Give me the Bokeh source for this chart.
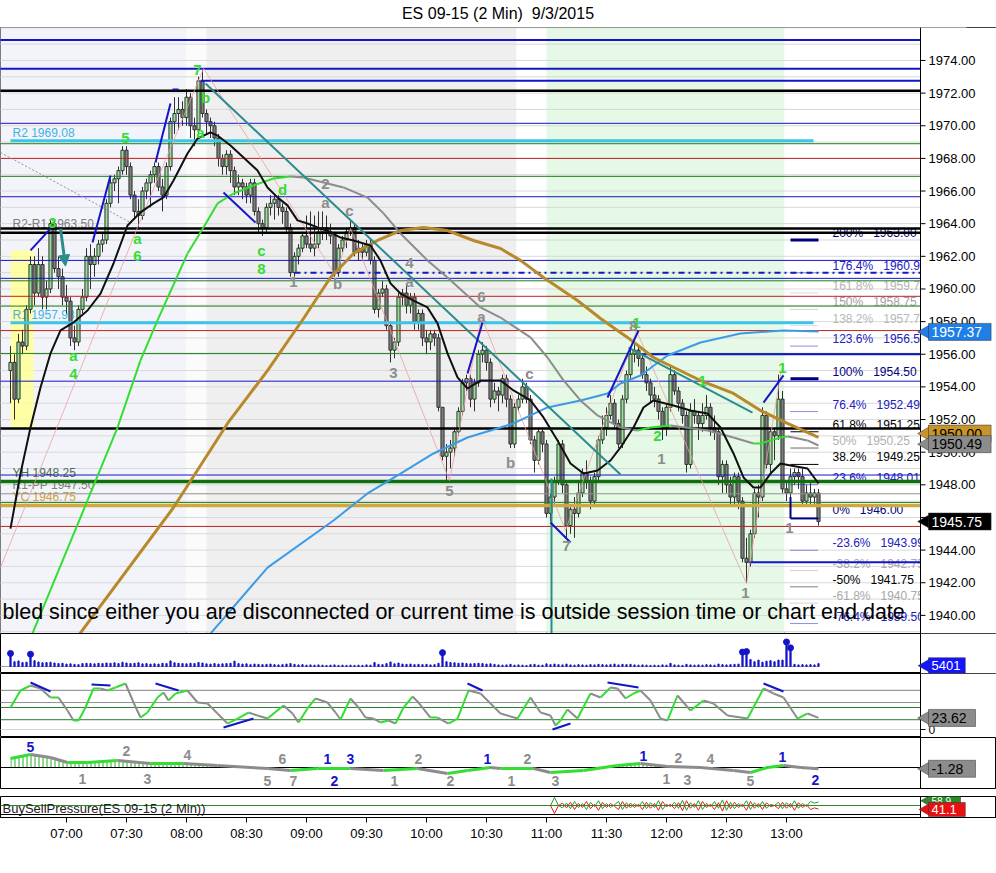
import numpy as np
from bokeh.plotting import figure
from bokeh.layouts import column
from bokeh.models import Range1d, FixedTicker, Div, Arrow, NormalHead
from bokeh.core.properties import value
from bokeh.embed import file_html
from bokeh.resources import INLINE

FONT = "Liberation Sans"

# ---------------------------------------------------------------- data
title_text = "ES 09-15 (2 Min)&nbsp; 9/3/2015"
session_start = "06:32"
bar_minutes = 2
time_tick_labels = ["07:00", "07:30", "08:00", "08:30", "09:00", "09:30", "10:00",
                    "10:30", "11:00", "11:30", "12:00", "12:30", "13:00"]
price_tick_values = [1940, 1942, 1944, 1946, 1948, 1950, 1952, 1954, 1956, 1958, 1960,
                     1962, 1964, 1966, 1968, 1970, 1972, 1974]

opens = [1955.0, 1955.5, 1953.25, 1956.75, 1956.5, 1958.75, 1961.5, 1959.75, 1961.5, 1959.5,
         1960.0, 1964.0, 1961.25, 1960.75, 1959.5, 1959.25, 1957.0, 1956.75, 1958.75, 1959.5,
         1962.0, 1961.5, 1962.0, 1962.75, 1963.0, 1965.25, 1966.5, 1966.75, 1967.25, 1968.5,
         1967.5, 1965.75, 1964.75, 1964.5, 1966.0, 1966.5, 1967.0, 1967.5, 1966.25, 1965.75,
         1967.5, 1970.25, 1970.75, 1971.0, 1970.5, 1971.75, 1970.0, 1969.75, 1972.75, 1970.75,
         1970.25, 1970.0, 1969.25, 1968.0, 1967.5, 1968.25, 1967.25, 1966.25, 1966.5, 1966.25,
         1965.75, 1966.5, 1964.75, 1964.0, 1963.75, 1965.0, 1965.25, 1965.5, 1965.0, 1964.75,
         1963.75, 1961.0, 1962.0, 1962.5, 1963.25, 1962.75, 1962.5, 1962.75, 1963.5, 1963.75,
         1963.5, 1963.25, 1961.0, 1962.5, 1963.0, 1963.5, 1963.75, 1962.25, 1962.5, 1962.25,
         1962.75, 1961.75, 1958.75, 1959.75, 1960.0, 1957.75, 1956.25, 1956.75, 1959.5, 1959.75,
         1959.0, 1959.5, 1958.0, 1958.5, 1957.0, 1956.75, 1957.25, 1957.0, 1952.75, 1949.75,
         1950.0, 1950.25, 1951.25, 1952.5, 1954.25, 1954.5, 1953.25, 1954.25, 1956.0, 1956.25,
         1955.5, 1953.25, 1953.75, 1953.5, 1954.5, 1953.25, 1950.5, 1952.75, 1953.25, 1954.0,
         1953.25, 1950.75, 1949.5, 1951.25, 1950.5, 1946.25, 1947.25, 1948.25, 1950.5, 1948.0,
         1945.5, 1946.5, 1946.25, 1947.5, 1948.75, 1948.25, 1947.0, 1948.5, 1950.75, 1951.5,
         1952.25, 1953.0, 1951.75, 1950.5, 1953.25, 1954.75, 1956.0, 1956.25, 1955.75, 1954.75,
         1954.25, 1953.5, 1953.25, 1952.5, 1951.5, 1952.75, 1954.75, 1953.75, 1953.0, 1952.25,
         1949.25, 1952.5, 1952.25, 1951.75, 1952.25, 1952.75, 1951.5, 1951.25, 1948.5, 1949.25,
         1948.0, 1947.25, 1948.5, 1947.0, 1943.5, 1943.25, 1945.0, 1947.5, 1947.25, 1952.25,
         1949.25, 1951.25, 1951.0, 1953.25, 1947.75, 1947.5, 1948.5, 1948.75, 1948.5, 1947.0,
         1947.5, 1947.25, 1947.5]
highs = [1956.5, 1956.0, 1957.25, 1957.5, 1959.0, 1962.0, 1962.0, 1962.5, 1962.0, 1960.5,
         1964.25, 1964.25, 1962.0, 1961.25, 1960.25, 1959.5, 1957.75, 1959.0, 1960.0, 1962.5,
         1962.75, 1962.5, 1963.0, 1963.5, 1965.5, 1966.75, 1967.0, 1967.5, 1968.75, 1968.75,
         1967.75, 1966.0, 1965.5, 1966.25, 1966.75, 1967.25, 1967.75, 1967.75, 1966.75, 1967.75,
         1970.5, 1971.75, 1971.75, 1971.5, 1972.25, 1972.0, 1970.5, 1973.0, 1973.5, 1971.0,
         1970.5, 1970.25, 1969.5, 1968.25, 1968.5, 1968.5, 1967.5, 1967.0, 1966.75, 1966.5,
         1966.75, 1966.75, 1965.0, 1964.25, 1965.25, 1965.75, 1965.75, 1965.75, 1965.25, 1965.0,
         1964.0, 1962.25, 1962.75, 1963.5, 1964.5, 1964.75, 1964.5, 1964.75, 1964.75, 1964.5,
         1964.0, 1963.5, 1962.75, 1963.25, 1963.75, 1964.25, 1964.0, 1963.0, 1962.75, 1963.0,
         1963.0, 1962.0, 1960.0, 1960.5, 1960.25, 1958.0, 1957.0, 1959.75, 1960.0, 1960.25,
         1959.75, 1959.75, 1958.75, 1958.75, 1957.5, 1957.5, 1957.5, 1957.25, 1952.75, 1950.5,
         1950.75, 1951.5, 1952.75, 1954.5, 1954.75, 1954.75, 1954.5, 1956.25, 1956.75, 1956.5,
         1955.75, 1954.25, 1954.0, 1954.75, 1954.75, 1953.5, 1953.0, 1953.5, 1954.5, 1954.25,
         1953.5, 1951.0, 1951.5, 1951.5, 1950.75, 1947.5, 1948.5, 1950.75, 1950.75, 1948.25,
         1946.75, 1947.25, 1948.25, 1949.0, 1949.5, 1948.5, 1948.75, 1951.0, 1952.25, 1952.75,
         1953.5, 1953.25, 1952.0, 1953.5, 1955.0, 1956.5, 1957.0, 1956.5, 1956.0, 1955.25,
         1954.5, 1954.0, 1953.5, 1952.75, 1953.0, 1955.25, 1955.0, 1954.0, 1953.25, 1952.5,
         1953.0, 1953.25, 1952.5, 1953.0, 1953.5, 1953.0, 1952.25, 1951.5, 1949.5, 1949.5,
         1948.5, 1948.75, 1948.75, 1947.25, 1944.75, 1945.25, 1947.75, 1948.0, 1952.75, 1952.5,
         1951.5, 1951.5, 1954.75, 1953.75, 1948.25, 1949.0, 1949.0, 1949.0, 1949.0, 1948.0,
         1948.25, 1947.75, 1947.75]
lows = [1953.0, 1952.0, 1953.0, 1956.0, 1956.25, 1958.5, 1959.0, 1959.5, 1958.75, 1958.75,
        1959.75, 1961.0, 1960.0, 1959.0, 1958.5, 1956.5, 1956.25, 1956.5, 1958.5, 1959.25,
        1960.0, 1960.75, 1961.5, 1962.25, 1962.75, 1965.0, 1966.0, 1965.25, 1967.0, 1967.0,
        1965.5, 1964.25, 1963.75, 1964.25, 1965.5, 1965.0, 1966.5, 1966.0, 1964.75, 1965.5,
        1967.25, 1969.5, 1969.75, 1970.0, 1970.0, 1969.25, 1968.75, 1969.5, 1970.5, 1969.5,
        1969.25, 1968.75, 1967.5, 1967.0, 1967.0, 1966.5, 1965.75, 1965.75, 1965.5, 1965.25,
        1965.25, 1964.5, 1963.5, 1963.25, 1963.5, 1964.5, 1964.25, 1964.5, 1964.0, 1963.5,
        1960.75, 1960.75, 1961.5, 1962.25, 1962.5, 1962.25, 1962.0, 1962.5, 1963.0, 1963.0,
        1962.75, 1960.75, 1960.75, 1962.25, 1962.5, 1963.25, 1962.0, 1961.75, 1961.75, 1962.0,
        1961.5, 1958.5, 1958.25, 1959.5, 1957.5, 1955.5, 1955.75, 1956.5, 1959.0, 1958.5,
        1958.5, 1957.5, 1957.5, 1956.5, 1956.0, 1956.25, 1956.5, 1952.5, 1949.5, 1948.25,
        1949.0, 1949.75, 1951.0, 1952.25, 1953.75, 1952.75, 1952.5, 1954.0, 1955.5, 1955.0,
        1952.75, 1953.0, 1952.5, 1953.0, 1952.75, 1950.25, 1950.25, 1952.5, 1953.0, 1953.0,
        1950.5, 1948.75, 1949.25, 1950.0, 1946.0, 1945.75, 1946.75, 1948.0, 1947.5, 1944.75,
        1945.0, 1944.75, 1946.0, 1947.25, 1947.75, 1946.5, 1946.75, 1948.25, 1950.5, 1951.0,
        1952.0, 1951.5, 1950.25, 1950.25, 1953.0, 1954.5, 1955.5, 1955.25, 1954.5, 1953.75,
        1953.0, 1952.75, 1952.0, 1950.75, 1951.0, 1952.5, 1953.5, 1952.5, 1951.75, 1948.75,
        1949.0, 1951.75, 1950.75, 1951.25, 1952.0, 1951.0, 1950.75, 1948.0, 1947.5, 1947.5,
        1946.75, 1946.75, 1946.5, 1943.25, 1942.0, 1943.0, 1944.75, 1946.0, 1947.0, 1949.0,
        1948.75, 1949.5, 1950.75, 1947.5, 1947.0, 1947.25, 1948.0, 1947.75, 1946.75, 1946.75,
        1946.75, 1946.75, 1945.5]
closes = [1955.5, 1953.25, 1956.75, 1956.5, 1958.75, 1961.5, 1959.75, 1961.5, 1959.5, 1960.0,
          1964.0, 1961.25, 1960.75, 1959.5, 1959.25, 1957.0, 1956.75, 1958.75, 1959.5, 1962.0,
          1961.5, 1962.0, 1962.75, 1963.0, 1965.25, 1966.5, 1966.75, 1967.25, 1968.5, 1967.5,
          1965.75, 1964.75, 1964.5, 1966.0, 1966.5, 1967.0, 1967.5, 1966.25, 1965.75, 1967.5,
          1970.25, 1970.75, 1971.0, 1970.5, 1971.75, 1970.0, 1969.75, 1972.75, 1970.75, 1970.25,
          1970.0, 1969.25, 1968.0, 1967.5, 1968.25, 1967.25, 1966.25, 1966.5, 1966.25, 1965.75,
          1966.5, 1964.75, 1964.0, 1963.75, 1965.0, 1965.25, 1965.5, 1965.0, 1964.75, 1963.75,
          1961.0, 1962.0, 1962.5, 1963.25, 1962.75, 1962.5, 1962.75, 1963.5, 1963.75, 1963.5,
          1963.25, 1961.0, 1962.5, 1963.0, 1963.5, 1963.75, 1962.25, 1962.5, 1962.25, 1962.75,
          1961.75, 1958.75, 1959.75, 1960.0, 1957.75, 1956.25, 1956.75, 1959.5, 1959.75, 1959.0,
          1959.5, 1958.0, 1958.5, 1957.0, 1956.75, 1957.25, 1957.0, 1952.75, 1949.75, 1950.0,
          1950.25, 1951.25, 1952.5, 1954.25, 1954.5, 1953.25, 1954.25, 1956.0, 1956.25, 1955.5,
          1953.25, 1953.75, 1953.5, 1954.5, 1953.25, 1950.5, 1952.75, 1953.25, 1954.0, 1953.25,
          1950.75, 1949.5, 1951.25, 1950.5, 1946.25, 1947.25, 1948.25, 1950.5, 1948.0, 1945.5,
          1946.5, 1946.25, 1947.5, 1948.75, 1948.25, 1947.0, 1948.5, 1950.75, 1951.5, 1952.25,
          1953.0, 1951.75, 1950.5, 1953.25, 1954.75, 1956.0, 1956.25, 1955.75, 1954.75, 1954.25,
          1953.5, 1953.25, 1952.5, 1951.5, 1952.75, 1954.75, 1953.75, 1953.0, 1952.25, 1949.25,
          1952.5, 1952.25, 1951.75, 1952.25, 1952.75, 1951.5, 1951.25, 1948.5, 1949.25, 1948.0,
          1947.25, 1948.5, 1947.0, 1943.5, 1943.25, 1945.0, 1947.5, 1947.25, 1952.25, 1949.25,
          1951.25, 1951.0, 1953.25, 1947.75, 1947.5, 1948.5, 1948.75, 1948.5, 1947.0, 1947.5,
          1947.25, 1947.5, 1945.75]
volumes = [24500, 9000, 10500, 7500, 8000, 23000, 11000, 8500, 7000, 7500,
           8000, 6500, 5500, 6000, 4500, 5000, 4000, 3500, 5500, 6000,
           5500, 5000, 6000, 5500, 6500, 6000, 7000, 5500, 8000, 6500,
           5500, 6000, 7000, 5000, 5500, 4500, 5000, 4500, 6000, 5500,
           10500, 7000, 6000, 5500, 5000, 6000, 5500, 7500, 6500, 5000,
           4500, 5500, 4500, 5000, 5500, 6000, 10000, 5500, 4500, 5000,
           3500, 4500, 4000, 3500, 4000, 4500, 3500, 3000, 3500, 4500,
           5500, 4000, 3000, 3500, 2500, 3000, 2500, 3000, 2500, 2000,
           2500, 3000, 2000, 2500, 2000, 2500, 2000, 2500, 2000, 3000,
           2500, 7500, 4000, 3500, 5500, 8500, 5000, 6500, 4500, 4000,
           4500, 3500, 4000, 3500, 4000, 3000, 3500, 6000, 26000, 9000,
           7500, 7000, 6000, 6500, 5500, 5000, 5500, 6000, 5500, 4500,
           5000, 4000, 3000, 2500, 3000, 4000, 2500, 3000, 2500, 2000,
           3500, 4000, 2500, 2500, 5000, 3500, 4500, 3500, 3000, 4500,
           3000, 2500, 3500, 3000, 2500, 3500, 3000, 4000, 3500, 3000,
           3500, 4500, 3000, 4000, 3500, 4000, 3000, 2500, 3000, 2500,
           2000, 2500, 2000, 3000, 2500, 6000, 3000, 2500, 2000, 4000,
           3000, 2500, 3000, 2500, 3500, 3000, 2500, 4500, 3500, 3000,
           3500, 4000, 4500, 27000, 28000, 13000, 9000, 12000, 8000, 10000,
           11000, 9000, 12000, 12000, 46000, 35000, 4000, 3000, 3500, 3000,
           3500, 3000, 5401]

# session shading (time from, time to)
band_from = ["06:00", "08:00", "08:10", "10:45", "11:00", "12:59"]
band_to = ["08:00", "08:10", "10:45", "11:00", "12:59", "14:30"]

# horizontal price levels
level_prices = [1975.25, 1973.50, 1972.75, 1972.15, 1970.15, 1969.08, 1968.90, 1968.00,
                1966.90, 1965.65, 1963.70, 1963.45, 1961.75, 1961.00, 1960.65, 1960.50,
                1959.55, 1958.95, 1957.93, 1957.45, 1956.05, 1956.00, 1954.35, 1951.45,
                1948.60, 1948.20, 1947.45, 1946.92, 1946.73, 1945.45, 1943.25]
level_from_bar = [None, None, 47.5, None, None, 0, None, None, None, None, None, None, None,
                  71, None, None, None, None, 0, None, None, 157.5, None, None, None, None,
                  None, None, None, None, 184.5]
level_to_bar = [None, None, None, None, None, 200.75, None, None, None, None, None, None, None,
                None, None, None, None, None, 200.75, None, None, None, None, None, None, None,
                None, None, None, None, None]

left_label_texts = ["R2 1969.08", "R2-R1 1963.50", "R1 1957.93", "YH 1948.25",
                    "R1-PP 1947.50", "YC 1946.75"]
left_label_prices = [1969.08, 1963.50, 1957.93, 1948.25, 1947.50, 1946.75]

fib_pcts = ["200%", "176.4%", "161.8%", "150%", "138.2%", "123.6%", "100%", "76.4%", "61.8%",
            "50%", "38.2%", "23.6%", "0%", "-23.6%", "-38.2%", "-50%", "-61.8%", "-76.4%"]
fib_values = [1963.00, 1960.99, 1959.75, 1958.75, 1957.75, 1956.50, 1954.50, 1952.49, 1951.25,
              1950.25, 1949.25, 1948.01, 1946.00, 1943.99, 1942.75, 1941.75, 1940.75, 1939.50]

# moving averages (sampled along the chart: bar number, price)
ma_fast_bar = [0, 2.5, 5, 7.5, 10, 12.5, 15.75, 19.25, 22.5, 25.75, 29.25, 32.5, 35.75, 38.25,
               40.75, 44.25, 46.75, 50, 51.75, 55, 58.25, 61.75, 64.25, 66.75, 69.25, 71.75,
               74.25, 76.75, 79.25, 82.5, 85.75, 90, 92.5, 95, 97.5, 100.75, 104.25, 106.75,
               109.25, 111.75, 114.25, 117.5, 122.5, 125.75, 130, 133.25, 136.75, 140, 143.25,
               146.75, 150, 152.5, 155.75, 158.25, 160.75, 165.75, 170, 174.25, 177.5, 180.75,
               183.25, 185.75, 187.5, 190, 192.5, 195, 199.25, 202]
ma_fast_val = [1945.32, 1948.69, 1951.51, 1953.96, 1956.05, 1957.46, 1957.95, 1958.68, 1959.72,
               1961.56, 1963.89, 1964.69, 1965.24, 1965.61, 1966.65, 1968.30, 1969.22, 1969.59,
               1969.40, 1968.79, 1968.06, 1967.26, 1966.22, 1965.61, 1965.12, 1964.20, 1964.01,
               1963.77, 1963.58, 1963.15, 1962.97, 1962.66, 1961.74, 1960.34, 1959.72, 1959.29,
               1958.87, 1957.89, 1956.05, 1954.58, 1953.90, 1954.39, 1954.39, 1953.78, 1953.17,
               1952.13, 1950.72, 1949.31, 1948.69, 1948.88, 1949.49, 1950.29, 1951.51, 1952.74,
               1953.17, 1952.86, 1952.55, 1952.37, 1951.51, 1949.92, 1948.45, 1947.84, 1947.84,
               1948.69, 1949.31, 1949.18, 1949.00, 1948.08]
ma_mid_bar = [5.0, 19.25, 26.75, 32.5, 36.75, 44.25, 48.25, 51.75, 55.75, 60.75, 65.75, 70,
              73.25, 78.25, 83.25, 89.25, 93.25, 97.5, 104.25, 109.25, 117.5, 122.5, 130,
              134.25, 138.25, 142.5, 146.75, 152.5, 156.75, 160, 165, 174.25, 180.75, 185.75,
              187.5, 192.5, 194.25, 195.75, 199.25, 202]
ma_mid_val = [1938.6, 1947.04, 1951.51, 1955.62, 1958.07, 1962.17, 1963.77, 1965.24, 1965.85,
              1966.34, 1966.77, 1966.89, 1966.83, 1966.52, 1966.22, 1965.60, 1964.63, 1963.40,
              1961.75, 1960.70, 1958.87, 1958.25, 1957.03, 1955.80, 1954.40, 1953.17, 1952.25,
              1951.51, 1951.33, 1951.51, 1951.63, 1951.33, 1950.90, 1950.53, 1950.53, 1950.90,
              1950.96, 1950.90, 1950.72, 1950.41]
ma_slow_bar = [16.5, 40.75, 54.25, 64.25, 73.25, 80, 85.75, 91.75, 97.5, 103.25, 109.25, 115.75,
               122.5, 127.5, 133.25, 141.75, 147.5, 154.25, 160.75, 172.5, 180.75, 187.5,
               194.25, 202]
ma_slow_val = [1938.6, 1946.61, 1951.76, 1955.0, 1958.19, 1960.7, 1962.17, 1962.97, 1963.58,
               1963.77, 1963.58, 1962.97, 1962.48, 1961.75, 1960.7, 1959.29, 1958.19, 1957.03,
               1955.8, 1954.39, 1953.6, 1952.55, 1951.76, 1950.9]
ma_long_bar = [49, 64.25, 80.75, 89.25, 97.5, 105.75, 114.25, 122.5, 125.75, 134.25, 142.5,
               149.25, 152.5, 157.5, 164.25, 172.5, 182.5, 193.25, 202]
ma_long_val = [1938.6, 1942.93, 1945.81, 1947.47, 1948.69, 1949.92, 1950.9, 1951.51, 1951.76,
               1952.74, 1953.17, 1953.6, 1954.21, 1954.7, 1955.92, 1956.72, 1957.27, 1957.46,
               1957.39]

# wave-count labels
wave_text = ["3", "a", "4", "5", "a", "6", "7", "b", "a", "c", "8", "d", "2", "1", "1", "1",
             "2", "a", "c", "1", "b", "4", "a", "3", "6", "a", "c", "b", "5", "7", "8", "1",
             "1", "1"]
wave_bar = [10.5, 15.75, 15.75, 28.75, 31.75, 31.75, 46.75, 48.75, 47.5, 62.75, 62.75, 68,
            161.75, 173, 193, 156.5,
            78.75, 78.75, 84.75, 70.75, 81.75, 99.75, 99.75, 95.75, 117.75, 117.75, 129.75,
            125, 109.75, 139, 155.75, 162.75, 183.75, 194.75]
wave_price = [1964.07, 1955.92, 1954.76, 1969.28, 1963.09, 1962.05, 1973.39, 1971.73, 1969.59,
              1962.36, 1961.25, 1966.1, 1951.02, 1954.39, 1955.13, 1957.9,
              1966.46, 1965.3, 1964.81, 1960.4, 1960.34, 1961.62, 1960.46, 1954.88, 1959.48,
              1958.31, 1954.82, 1949.37, 1947.65, 1944.28, 1957.76, 1949.61, 1941.4, 1945.38]
wave_is_green = [1] * 16 + [0] * 18

# drawn trend lines (bar, price) -> (bar, price)
trend_x0 = [5, 20.5, 36.25, 40.5, 53.25, 114.25, 149.25, 188.25, 135]
trend_y0 = [1962.36, 1962.85, 1967.75, 1972.22, 1965.91, 1954.82, 1953.35, 1953.04, 1945.69]
trend_x1 = [10, 25, 40, 42, 61.25, 118, 157, 193.25, 140]
trend_y1 = [1963.7, 1966.95, 1971.37, 1972.22, 1964.07, 1957.95, 1957.45, 1954.7, 1944.47]
channel_x0 = [48.75, 154.5, 135.25]
channel_y0 = [1972.59, 1956.41, 1948.39]
channel_x1 = [152.5, 185.5, 135.25]
channel_y1 = [1948.63, 1952.43, 1938.0]
zigzag_bar = [-2.5, 31.75, 48.25, 81.25, 85, 109.75, 117.75, 138.75, 156.5, 184, 192.75]
zigzag_price = [1942.93, 1963.77, 1973.51, 1960.83, 1963.7, 1948.26, 1958.31, 1945.2, 1957.45,
                1941.95, 1955.13]

overlay_message = ("bled since either you are disconnected or current time is outside "
                   "session time or chart end date")

# oscillator panel
osc_bar = [0, 2.5, 5, 7.5, 10, 12, 14.25, 15.75, 17, 18.75,
           20.75, 22.5, 24.25, 26.25, 28.75, 30.75, 32.5, 34.25, 36.75, 38.25,
           39.5, 41.25, 44.25, 46.75, 49.25, 51.75, 54.25, 56.75, 59.5, 61.75,
           64.25, 68.25, 70.5, 72, 74.25, 76.25, 79.25, 81.25, 82.5, 85,
           87, 88.75, 90.75, 92.5, 94.5, 96.25, 98.25, 100.5, 102, 105,
           106.75, 109.5, 111.75, 114.5, 117.5, 120, 122.5, 126.75, 130, 132.5,
           135, 136.25, 137.5, 139.25, 141.75, 145, 147.5, 150, 151.75, 153.75,
           155.75, 157.5, 160, 162.5, 164.25, 166.75, 170, 173.25, 175.75, 179.25,
           184.25, 188.25, 190.75, 193.25, 196.75, 199.25, 202]
osc_val = [44.9, 79.6, 89.8, 83.7, 65.3, 65.3, 38.8, 18.4, 18.4, 44.9,
           83.7, 83.7, 79.6, 85.7, 93.9, 55.1, 24.5, 34.7, 65.3, 75.5,
           59.2, 73.5, 79.6, 55.1, 53.1, 32.7, 12.2, 22.4, 34.7, 28.6,
           22.4, 49.0, 32.7, 14.3, 42.9, 63.3, 55.1, 34.7, 20.4, 63.3,
           44.9, 24.5, 22.4, 14.3, 18.4, 12.2, 44.9, 67.3, 55.1, 24.5,
           24.5, 12.2, 22.4, 79.6, 73.5, 53.1, 32.7, 22.4, 65.3, 34.7,
           28.6, 8.2, 18.4, 40.8, 22.4, 73.5, 65.3, 85.7, 83.7, 63.3,
           73.5, 79.6, 59.2, 22.4, 18.4, 69.4, 38.8, 59.2, 53.1, 28.6,
           22.4, 83.7, 73.5, 65.3, 22.4, 32.7, 23.62]
osc_levels = [80, 55, 45, 20, 0]
div_x0 = [5, 20.25, 36.25, 53.25, 114.25, 135.5, 149.25, 188.25]
div_y0 = [95.9, 91.8, 93.9, 4.1, 93.9, 0, 95.9, 93.9]
div_x1 = [10, 25, 42, 60.75, 118, 140, 157, 193.25]
div_y1 = [77.6, 89.8, 79.6, 22.4, 79.6, 12.2, 85.7, 77.6]

# third panel (momentum)
mom_bar = [0, 5, 10, 14.25, 19.25, 26.75, 35, 43.25, 51.75, 60, 64.25, 70, 76.75, 85, 93.25,
           101.75, 109.25, 114.25, 120, 122.5, 130.75, 135, 143.25, 151.75, 157.5, 164.25,
           172.5, 180.75, 185, 189.25, 193.25, 197.5, 202]
mom_val = [9, 13, 10, 5, 5, 7, 4, 4, 2, 0, -1, -3, -1, -1, -3, -1, -6, -3, 0, -1, -1, -5, -3,
           2, 4, 1, 0, -3, -5, 0, 2, 0, -1.28]
mom_text = ["5", "2", "4", "1", "3", "6", "5", "7", "1", "3", "2", "2", "1", "2", "1", "2", "1",
            "3", "1", "2", "4", "1", "3", "5", "1", "2"]
mom_text_bar = [5, 29, 44.25, 18, 34.25, 68, 64.25, 70.75, 79.25, 85, 81, 102, 96, 110, 119.25,
                129.25, 125.25, 136.25, 158.25, 167, 175, 164, 169.25, 185, 193, 201.25]
mom_text_val = [21, 17, 13, -11, -11, 9, -13.5, -13.5, 9, 9, -13, 9, -13.5, -13.5, 9, 9, -13,
                -13.5, 12, 10, 9, -11, -12, -13.5, 11, -12]
mom_text_blue = [1, 0, 0, 0, 0, 0, 0, 0, 1, 1, 1, 0, 0, 0, 1, 0, 0, 0, 1, 0, 0, 0, 0, 0, 1, 1]

# buy / sell pressure (percent buying), from bar 135 on
bs_first_bar = 135
bs_buy = [50, 70, 50, 44, 56, 42, 60, 45, 55, 40,
          58, 47, 62, 42, 55, 45, 52, 60, 40, 57,
          44, 55, 47, 60, 42, 57, 45, 62, 40, 53,
          47, 58, 43, 63, 38, 57, 45, 62, 40, 55,
          47, 60, 43, 64, 38, 58, 42, 55, 47, 62,
          40, 57, 45, 60, 43, 53, 50, 58, 42, 57,
          45, 62, 43, 55, 48, 60, 56, 58.9]

# right-axis value tags
tag_ma_long = 1957.37
tag_ma_slow_text = "1950.00"
tag_ma_slow_pos = 1951.14
tag_ma_mid = 1950.49
tag_close = 1945.75

# ---------------------------------------------------------------- helpers
def minutes(t):
    h, m = t.split(":")
    return int(h) * 60 + int(m)


def tbar(t):
    return (minutes(t) - minutes(session_start)) / bar_minutes


n = len(closes)
bars = np.arange(n)
o = np.array(opens); h = np.array(highs); l = np.array(lows); c = np.array(closes)

xr = Range1d(-2.5, 246.5)   # data frame plus the price-scale strip on the right
EDGE = 227.5                # right edge of the data area
BAR_PX = 4.0                # screen pixels per bar (996 px / 249 bars)


def mkfig(fh, yr, top=0, bottom=0, xaxis=False):
    f = figure(frame_width=996, frame_height=fh, x_range=xr, y_range=yr,
               output_backend="svg", toolbar_location=None, y_axis_location=None,
               x_axis_location="below" if xaxis else None,
               min_border_left=0, min_border_right=0, min_border_top=top,
               min_border_bottom=bottom, background_fill_color="white",
               border_fill_color="white", outline_line_color="black",
               outline_line_width=1)
    f.xgrid.visible = False
    f.ygrid.visible = False
    return f


def scale_strip(f, y0, y1):
    """white strip to the right of the data area, with its border line"""
    f.quad(left=[EDGE], right=[250], bottom=[y0], top=[y1], fill_color="white",
           line_color=None)
    f.segment(x0=[EDGE], y0=[y0], x1=[EDGE], y1=[y1], line_color="black", line_width=1)


def scale_ticks(f, ticks, labels, size="13px"):
    f.segment(x0=[EDGE] * len(ticks), y0=ticks, x1=[EDGE + 5 / BAR_PX] * len(ticks),
              y1=ticks, line_color="black", line_width=1)
    f.text(x=[EDGE + 5 / BAR_PX] * len(ticks), y=ticks, text=labels, x_offset=3,
           text_font=value(FONT), text_font_size=size, text_color="black",
           text_align="left", text_baseline="middle")


def tag(f, y, text, bg, fg, size="14px", hpx=17, cw=7.8):
    wpx = cw * len(text) + 8
    left = EDGE + 8 / BAR_PX
    f.scatter(x=[EDGE + 5 / BAR_PX], y=[y], marker="triangle", size=hpx * 0.8,
              angle=np.pi / 2, fill_color=bg, line_color="#303030", line_width=0.5)
    f.rect(x=[left + wpx / 2 / BAR_PX], y=[y], width=wpx, height=hpx, width_units="screen",
           height_units="screen", fill_color=bg, line_color="#303030", line_width=0.5)
    f.text(x=[left + 3 / BAR_PX], y=[y], text=[text], text_font=value(FONT),
           text_font_size=size, text_color=fg, text_align="left", text_baseline="middle")


GREEN = "#33dd33"
GREY = "#8c8c8c"
NAVY = "#1414c8"

# ---------------------------------------------------------------- main price panel
YMIN, YMAX = 1938.89, 1976.02
p = mkfig(606, Range1d(YMIN, YMAX))

band_colors = ["#f3f4f9", "#fbfbfb", "#efefef", "#ffffff", "#e6f8e6", "#ffffff"]
p.quad(left=[tbar(t) for t in band_from], right=[tbar(t) for t in band_to],
       bottom=1930, top=1980, fill_color=band_colors, line_color=None)
grid_vals = list(range(1939, 1977))
p.segment(x0=[-3] * len(grid_vals), y0=grid_vals, x1=[EDGE] * len(grid_vals), y1=grid_vals,
          line_color="#d9d9d9", line_width=1)

# yellow highlight box
p.quad(left=[0], right=[5.75], bottom=[1951.45], top=[1962.35],
       fill_color="#ffff99", fill_alpha=0.85, line_color=None)

# left labels (drawn under the candles)
left_colors = ["#3fb2e6", "#7d7d7d", "#3fb2e6", "#4d6e4d", "#7d7d7d", "#cfa040"]
p.text(x=[0.5] * len(left_label_texts), y=left_label_prices, text=left_label_texts,
       text_color=left_colors, text_font=value(FONT), text_font_size="12px",
       text_align="left", text_baseline="middle", y_offset=-8)

# fib labels
fib_colors = ["#000080", "#2020c0", "#b4b4b4", "#a0a0a0", "#b8b8b8", "#2020c0", "#000080",
              "#2020c0", "#000000", "#b0b0b0", "#000000", "#2020c0", "#000080", "#2020c0",
              "#a8a8a8", "#000000", "#a8a8a8", "#2020c0"]
p.text(x=[205.5] * len(fib_pcts), y=fib_values,
       text=["%s\u00a0\u00a0 %.2f" % (a, b) for a, b in zip(fib_pcts, fib_values)],
       text_color=fib_colors, text_font=value(FONT), text_font_size="12px",
       text_align="left", text_baseline="middle", y_offset=-7)

# candles
up = c > o
body_col = np.where(up, "#98df98", "#7f7f7f")
p.segment(x0=bars, y0=h, x1=bars, y1=l, line_color="#303030", line_width=1)
p.vbar(x=bars, width=0.78, top=np.maximum(o, c), bottom=np.minimum(o, c),
       fill_color=list(body_col), line_color="#303030", line_width=1)

# horizontal levels
lv_style = [("#1414c8", 2, "solid"), ("#1414c8", 2, "solid"), ("#1414c8", 2, "solid"),
            ("#000000", 2.5, "solid"), ("#1414c8", 1, "solid"), ("#3cc4ea", 3, "solid"),
            ("#208020", 1, "solid"), ("#c02020", 1, "solid"), ("#208020", 1, "solid"),
            ("#1414c8", 1, "solid"), ("#000000", 2.5, "solid"), ("#000000", 2.5, "solid"),
            ("#1414c8", 1, "solid"), ("#1414c8", 2, "dashdot"), ("#1414c8", 1, "solid"),
            ("#208020", 1, "solid"), ("#c02020", 1, "solid"), ("#208020", 1, "solid"),
            ("#3cc4ea", 3, "solid"), ("#c02020", 1, "solid"), ("#208020", 1, "solid"),
            ("#1414c8", 2, "solid"), ("#1414c8", 1, "solid"), ("#000000", 2.5, "solid"),
            ("#1414c8", 1, "solid"), ("#107010", 3.5, "solid"), ("#909090", 1, "solid"),
            ("#208020", 1, "solid"), ("#d0a840", 3.5, "solid"), ("#c02020", 1, "solid"),
            ("#1414c8", 2, "solid")]
for pr, a, b, (col, w, dash) in zip(level_prices, level_from_bar, level_to_bar, lv_style):
    x0 = -3 if a is None else a
    x1 = EDGE if b is None else b
    p.segment(x0=[x0], y0=[pr], x1=[x1], y1=[pr], line_color=col, line_width=w,
              line_dash=dash)

# short fib markers at the right edge
for fv, col, pct in zip(fib_values, fib_colors, fib_pcts):
    if pct in ("200%", "100%"):
        p.segment(x0=[195], y0=[fv], x1=[202], y1=[fv], line_color="#000080", line_width=3)
    elif pct in ("61.8%", "38.2%"):
        p.segment(x0=[195], y0=[fv], x1=[202], y1=[fv], line_color="#000000", line_width=1)
    elif pct == "50%":
        p.segment(x0=[195], y0=[fv], x1=[202], y1=[fv], line_color="#b0b0b0", line_width=2)
    elif pct == "0%":
        p.segment(x0=[195, 195], y0=[fv - 0.06, fv - 0.06], x1=[202, 195],
                  y1=[fv - 0.06, 1947.25], line_color="#000080", line_width=2)
    else:
        p.segment(x0=[195], y0=[fv], x1=[202], y1=[fv], line_color=col, line_width=1,
                  line_dash="1 1")

# zigzag and dotted helper line
p.line(zigzag_bar, zigzag_price, line_color="#eaa0a0", line_width=1, line_alpha=0.8)
p.line([-2.5, 30], [1968.36, 1964.07], line_color="#909090", line_width=1, line_dash="2 2")

# moving averages
p.line(ma_long_bar, ma_long_val, line_color="#3c9be6", line_width=2)
p.line(ma_slow_bar, ma_slow_val, line_color="#b8892a", line_width=3)
mid_cols = [GREEN if b >= a else GREY for a, b in zip(ma_mid_val[:-1], ma_mid_val[1:])]
p.segment(x0=ma_mid_bar[:-1], y0=ma_mid_val[:-1], x1=ma_mid_bar[1:], y1=ma_mid_val[1:],
          line_color=mid_cols, line_width=2)
p.line(ma_fast_bar, ma_fast_val, line_color="#101010", line_width=2)

# trend lines
p.segment(x0=channel_x0, y0=channel_y0, x1=channel_x1, y1=channel_y1,
          line_color="#2a8c8c", line_width=2)
p.segment(x0=trend_x0, y0=trend_y0, x1=trend_x1, y1=trend_y1, line_color=NAVY, line_width=2)
p.add_layout(Arrow(end=NormalHead(size=11, fill_color="#2a8c8c", line_color="#2a8c8c"),
                   x_start=12.5, y_start=1963.7, x_end=13.75, y_end=1961.4,
                   line_color="#2a8c8c", line_width=3))

# wave labels
p.text(x=wave_bar, y=wave_price, text=wave_text,
       text_color=[GREEN if g else GREY for g in wave_is_green],
       text_font=value(FONT), text_font_size="15px", text_font_style="bold",
       text_align="center", text_baseline="middle")

p.text(x=[-2.0], y=[1940.18], text=[overlay_message], text_font=value(FONT),
       text_font_size="21.5px", text_color="black", text_baseline="middle",
       text_align="left")

# price scale strip
scale_strip(p, YMIN, YMAX)
scale_ticks(p, price_tick_values, ["%.2f" % t for t in price_tick_values])
tag(p, tag_ma_slow_pos, tag_ma_slow_text, "#c8952a", "#000000")
tag(p, tag_ma_mid, "%.2f" % tag_ma_mid, "#8c8c8c", "#000000")
tag(p, tag_ma_long, "%.2f" % tag_ma_long, "#1f7fe8", "#ffffff")
tag(p, tag_close, "%.2f" % tag_close, "#000000", "#ffffff")

# ---------------------------------------------------------------- volume
VMIN, VMAX = -13125, 61875
pv = mkfig(40, Range1d(VMIN, VMAX))
vol = np.array(volumes)
pv.segment(x0=[-3], y0=[0], x1=[202], y1=[0], line_color="#a0a0a0", line_width=1)
pv.vbar(x=bars, width=0.3, top=vol, bottom=0, fill_color=NAVY, line_color=NAVY)
big = vol > 20000
pv.scatter(bars[big], vol[big], size=6, fill_color=NAVY, line_color=NAVY)
scale_strip(pv, VMIN, VMAX)
tag(pv, 1500, str(volumes[-1]), "#1414ff", "#ffffff", size="13px", hpx=16, cw=7.2)

# ---------------------------------------------------------------- oscillator
OMIN, OMAX = -16.3, 114.3
po = mkfig(64, Range1d(OMIN, OMAX))
lvl_cols = ["#808080", "#909090", "#2a7a2a", "#2a7a2a", "#d4d4d4"]
for lv, col in zip(osc_levels, lvl_cols):
    po.segment(x0=[-3], y0=[lv], x1=[EDGE], y1=[lv], line_color=col, line_width=1)
osc_cols = [GREEN if b >= a else GREY for a, b in zip(osc_val[:-1], osc_val[1:])]
po.segment(x0=osc_bar[:-1], y0=osc_val[:-1], x1=osc_bar[1:], y1=osc_val[1:],
           line_color=osc_cols, line_width=2)
po.segment(x0=div_x0, y0=div_y0, x1=div_x1, y1=div_y1, line_color=NAVY, line_width=2)
scale_strip(po, OMIN, OMAX)
scale_ticks(po, [0], ["0"], size="12px")
tag(po, osc_val[-1], "%.2f" % osc_val[-1], "#8c8c8c", "#000000", size="14px", hpx=17)

# ---------------------------------------------------------------- momentum
MMIN, MMAX = -22, 30
pm = mkfig(52, Range1d(MMIN, MMAX))
pm.varea(x=mom_bar, y1=0, y2=[max(v, 0) for v in mom_val], fill_alpha=0,
         hatch_pattern="vertical_line", hatch_color="#22b022", hatch_scale=4, hatch_weight=1)
pm.segment(x0=[-3], y0=[0], x1=[240], y1=[0], line_color="#000000", line_width=1)
mom_cols = [GREEN if b >= a else GREY for a, b in zip(mom_val[:-1], mom_val[1:])]
pm.segment(x0=mom_bar[:-1], y0=mom_val[:-1], x1=mom_bar[1:], y1=mom_val[1:],
           line_color=mom_cols, line_width=3)
pm.text(x=mom_text_bar, y=mom_text_val, text=mom_text,
        text_color=[NAVY if b else GREY for b in mom_text_blue],
        text_font=value(FONT), text_font_size="14px", text_font_style="bold",
        text_align="center", text_baseline="middle")
pm.segment(x0=[EDGE], y0=[MMIN], x1=[EDGE], y1=[MMAX], line_color="black", line_width=1)
tag(pm, mom_val[-1], "%.2f" % mom_val[-1], "#8c8c8c", "#000000", size="14px", hpx=17)

# ---------------------------------------------------------------- buy / sell pressure
BMIN, BMAX = 20, 72.5
pb = mkfig(21, Range1d(BMIN, BMAX), top=7, bottom=38, xaxis=True)
pb.segment(x0=[-3, -3], y0=[50, 27.5], x1=[EDGE, EDGE], y1=[50, 27.5],
           line_color=["#2a8a2a", "#000000"], line_width=1)
bx = bs_first_bar + np.arange(len(bs_buy))
buy = np.array(bs_buy)
pb.line(bx, buy, line_color="#2a9a2a", line_width=1)
pb.line(bx, 100 - buy, line_color="#e02020", line_width=1)
pb.text(x=[-2.0], y=[41.5], text=["BuySellPressure(ES 09-15 (2 Min))"],
        text_font=value(FONT), text_font_size="13px", text_color="#202020",
        text_align="left", text_baseline="middle")
pb.segment(x0=[EDGE], y0=[BMIN], x1=[EDGE], y1=[BMAX], line_color="black", line_width=1)
tag(pb, 62.0, "%.1f" % buy[-1], "#2a8a2a", "#ffffff", size="10px", hpx=10, cw=6.0)
tag(pb, 40.0, "%.1f" % (100 - buy[-1]), "#e81010", "#ffffff", size="13px", hpx=14, cw=7.2)

pb.xaxis.ticker = FixedTicker(ticks=[tbar(t) for t in time_tick_labels])
pb.xaxis.major_label_overrides = {tbar(t): t for t in time_tick_labels}
pb.xaxis.major_label_text_font = FONT
pb.xaxis.major_label_text_font_size = "13px"
pb.xaxis.major_label_text_color = "black"
pb.xaxis.major_tick_out = 5
pb.xaxis.major_tick_in = 0
pb.xaxis.minor_tick_line_color = None
pb.xaxis.axis_line_color = "black"
pb.xaxis.major_label_standoff = 3

title = Div(text=title_text, width=996, height=27, margin=(0, 0, 0, 0),
            styles={"font-family": FONT, "font-size": "16px", "text-align": "center",
                    "line-height": "28px", "color": "#000000", "width": "996px"})

layout = column(title, p, pv, po, pm, pb, spacing=0)
open("out.html", "w").write(file_html(layout, INLINE))
